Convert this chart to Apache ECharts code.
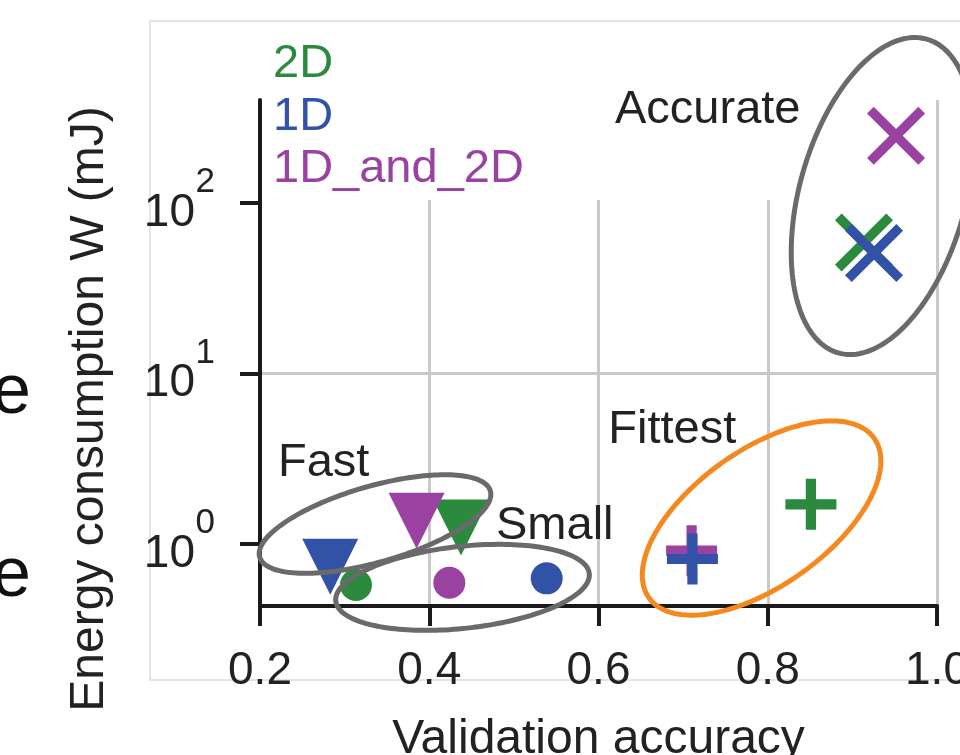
<!DOCTYPE html>
<html>
<head>
<meta charset="utf-8">
<script src="https://cdn.jsdelivr.net/npm/echarts@6/dist/echarts.min.js"></script>
<style>
  html, body { margin: 0; padding: 0; background: #fff; }
  #chart { width: 960px; height: 755px; }
</style>
</head>
<body>
<div id="chart"></div>
<script>
// Model families: one point per architecture group
const groups = ['Fast', 'Small', 'Fittest', 'Accurate'];

const accuracy2D = [0.4375, 0.3134, 0.851, 0.9137];
const energy2D   = [1.25, 0.575, 1.71, 58.7];

const accuracy1D = [0.283, 0.5388, 0.711, 0.9256];
const energy1D   = [0.736, 0.629, 0.817, 50.9];

const accuracyBoth = [0.385, 0.4237, 0.710, 0.9516];
const energyBoth   = [1.37, 0.593, 0.914, 248];

const xTicks = [0.2, 0.4, 0.6, 0.8, 1.0];
const yTicks = [1, 10, 100];

// ---- styling ----
const FONT = "'Liberation Sans', Arial, Helvetica, sans-serif";
const GREEN = '#2b8a3e';
const BLUE = '#3252a8';
const PURPLE = '#9a42a2';
const ORANGE = '#f5891f';
const RING = '#6a6a6a';
const INK = '#1a1a1a';
const TEXT = '#222222';
const GRID = '#c9c9c9';

// filled plus and cross outlines in a [-1, 1] box
const PLUS = 'path://M-1,-0.2H-0.2V-1H0.2V-0.2H1V0.2H0.2V1H-0.2V0.2H-1Z';
const CROSS = (function () {
  const d = 0.23;
  const p = [[-1 + d, -1], [0, -d], [1 - d, -1], [1, -1 + d], [d, 0], [1, 1 - d],
             [1 - d, 1], [0, d], [-1 + d, 1], [-1, 1 - d], [-d, 0], [-1, -1 + d]];
  return 'path://M' + p.map(q => q[0] + ',' + q[1]).join('L') + 'Z';
})();

const markerFor = {
  Fast:     { symbol: 'triangle', symbolRotate: 180, symbolSize: 56 },
  Small:    { symbol: 'circle', symbolSize: 32 },
  Fittest:  { symbol: PLUS, symbolSize: 51 },
  Accurate: { symbol: CROSS, symbolSize: 58 }
};

function points(xs, ys) {
  return groups.map((g, i) => Object.assign({ name: g, value: [xs[i], ys[i]] }, markerFor[g]));
}

// outlined regions with their captions (centre in data space, radii in px)
const regions = [
  { label: 'Accurate', center: [0.9356, 109.9], rx: 163, ry: 83, tilt: 74.3, color: RING, labelAt: [0.6195, 350] },
  { label: 'Fittest', center: [0.7927, 1.42], rx: 138, ry: 68, tilt: 35.3, color: ORANGE, labelAt: [0.6116, 4.65] },
  { label: 'Fast', center: [0.3359, 1.31], rx: 120, ry: 38, tilt: 16, color: RING, labelAt: [0.2213, 3.0] },
  { label: 'Small', center: [0.4393, 0.557], rx: 127.5, ry: 41, tilt: 6.2, color: RING, labelAt: [0.4789, 1.272] }
];

function renderRegion(params, api) {
  const r = regions[params.dataIndex];
  const c = api.coord(r.center);
  const th = r.tilt * Math.PI / 180;
  const pts = [];
  for (let k = 0; k < 180; k++) {
    const t = 2 * Math.PI * k / 180;
    const ex = r.rx * Math.cos(t), ey = r.ry * Math.sin(t);
    pts.push([c[0] + ex * Math.cos(th) + ey * Math.sin(th),
              c[1] - ex * Math.sin(th) + ey * Math.cos(th)]);
  }
  const lp = api.coord(r.labelAt);
  return {
    type: 'group',
    children: [
      { type: 'polygon', shape: { points: pts },
        style: { fill: 'none', stroke: r.color, lineWidth: 5 } },
      { type: 'text', x: lp[0], y: lp[1],
        style: { text: r.label, fill: TEXT, fontSize: 47, fontFamily: FONT,
                 align: 'left', verticalAlign: 'middle' } }
    ]
  };
}

// word endings spilling in from the neighbouring panel
function edgeLetter(y) {
  return { type: 'text', x: 31, y: y, silent: true,
           style: { text: 'e', font: 'normal 70px ' + FONT, fill: '#111',
                    align: 'right', verticalAlign: 'middle' } };
}

const chart = echarts.init(document.getElementById('chart'), null, { renderer: 'canvas' });

chart.setOption({
  animation: false,
  backgroundColor: '#ffffff',
  textStyle: { fontFamily: FONT },
  grid: { left: 260, right: 23, top: 100, bottom: 149, containLabel: false, outerBoundsMode: 'none' },
  legend: {
    orient: 'vertical', left: 268, top: 41, padding: 0, itemGap: 5.5,
    itemWidth: 0, itemHeight: 0, selectedMode: false,
    textStyle: { fontSize: 47, lineHeight: 47, fontFamily: FONT },
    data: [
      { name: '2D', textStyle: { color: GREEN } },
      { name: '1D', textStyle: { color: BLUE } },
      { name: '1D_and_2D', textStyle: { color: PURPLE } }
    ]
  },
  xAxis: {
    type: 'value', min: xTicks[0], max: xTicks[xTicks.length - 1], interval: 0.2,
    name: 'Validation accuracy', nameLocation: 'middle', nameGap: 110,
    nameTextStyle: { fontSize: 48, lineHeight: 48, color: TEXT, fontFamily: FONT },
    axisLine: { show: true, onZero: false, lineStyle: { color: INK, width: 4 } },
    axisTick: { show: true, length: 20, lineStyle: { color: INK, width: 4 } },
    axisLabel: { margin: 42, fontSize: 46, lineHeight: 46, color: TEXT, fontFamily: FONT,
                 formatter: v => v.toFixed(1) },
    splitLine: { show: true, showMinLine: false, lineStyle: { color: GRID, width: 3 } }
  },
  yAxis: {
    type: 'log', logBase: 10, min: 0.433, max: 402,
    name: 'Energy consumption W (mJ)', nameLocation: 'middle', nameGap: 146,
    nameTextStyle: { fontSize: 48, lineHeight: 48, color: TEXT, fontFamily: FONT,
                     padding: [0, 112, 0, 0] },
    axisLine: { show: true, onZero: false, lineStyle: { color: INK, width: 4 } },
    axisTick: { show: true, length: 20, customValues: yTicks, lineStyle: { color: INK, width: 4 } },
    minorTick: { show: false },
    axisLabel: {
      customValues: yTicks, margin: 45, fontSize: 46, color: TEXT, fontFamily: FONT,
      formatter: v => '{s|' + Math.round(Math.log10(v)) + '}\n{b|10}{sp| }',
      rich: {
        s: { fontSize: 35, lineHeight: 20, align: 'right', color: TEXT, fontFamily: FONT },
        b: { fontSize: 46, lineHeight: 41, align: 'right', color: TEXT, fontFamily: FONT },
        sp: { width: 20, fontSize: 46, lineHeight: 41, align: 'right' }
      }
    },
    splitLine: { show: true, customValues: yTicks, showMinLine: false, showMaxLine: false,
                 lineStyle: { color: GRID, width: 3 } }
  },
  graphic: [
    { type: 'rect', z: -10, silent: true,
      shape: { x: 150, y: 21, width: 840, height: 659 },
      style: { fill: '#ffffff', stroke: '#dcdcdc', lineWidth: 1.5 } },
    // legend panel backdrop
    { type: 'rect', z: 1, silent: true,
      shape: { x: 263, y: 98, width: 670, height: 102 },
      style: { fill: '#ffffff' } },
    edgeLetter(394),
    edgeLetter(577)
  ],
  series: [
    { name: '2D', type: 'scatter', z: 2, itemStyle: { color: GREEN, opacity: 1 },
      data: points(accuracy2D, energy2D) },
    { name: '1D_and_2D', type: 'scatter', z: 2, itemStyle: { color: PURPLE, opacity: 1 },
      data: points(accuracyBoth, energyBoth) },
    { name: '1D', type: 'scatter', z: 2, itemStyle: { color: BLUE, opacity: 1 },
      data: points(accuracy1D, energy1D) },
    { type: 'custom', z: 3, silent: true, clip: false,
      coordinateSystem: 'cartesian2d', encode: { x: 0, y: 1 },
      renderItem: renderRegion,
      data: regions.map(r => r.center) }
  ]
});
</script>
</body>
</html>
